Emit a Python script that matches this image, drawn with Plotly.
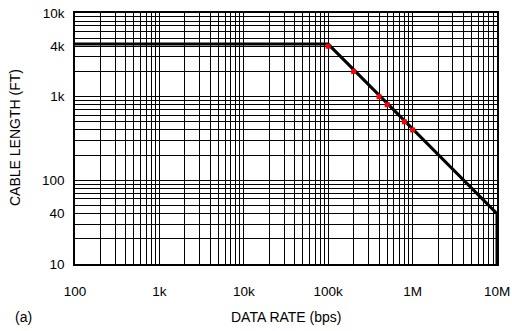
import plotly.graph_objects as go

# data
line_x = [100, 100e3, 10e6, 10e6]
line_y = [4250, 4250, 40, 10]
marker_x = [100e3, 200e3, 400e3, 500e3, 800e3, 1e6]
marker_y = [4000, 2000, 1000, 800, 500, 400]

x_label_vals = [100, 1e3, 1e4, 1e5, 1e6, 1e7]
x_label_text = ["100", "1k", "10k", "100k", "1M", "10M"]
y_label_vals = [10, 40, 100, 1000, 4000, 10000]
y_label_text = ["10", "40", "100", "1k", "4k", "10k"]


def grid_ticks(lo_exp, hi_exp, labels_v, labels_t):
    vals, texts = [], []
    for e in range(lo_exp, hi_exp + 1):
        for m in range(1, 10):
            v = m * 10 ** e
            if v > 10 ** hi_exp:
                break
            vals.append(v)
            t = ""
            for lv, lt in zip(labels_v, labels_t):
                if abs(lv - v) < 1e-6 * v:
                    t = lt
            texts.append(t)
    return vals, texts


xv, xt = grid_ticks(2, 7, x_label_vals, x_label_text)
yv, yt = grid_ticks(1, 4, y_label_vals, y_label_text)

fig = go.Figure()
fig.add_trace(go.Scatter(x=line_x, y=line_y, mode="lines",
                         line=dict(color="black", width=3), hoverinfo="skip"))
fig.add_trace(go.Scatter(x=marker_x, y=marker_y, mode="markers",
                         marker=dict(color="red", size=5, symbol="square"),
                         hoverinfo="skip"))

fam = "Liberation Sans, Arial, sans-serif"
tickfont = dict(family=fam, size=13.5, color="black")
titlefont = dict(family=fam, size=14, color="black")
fig.update_layout(
    width=512, height=331,
    margin=dict(l=75, r=15, t=13, b=67),
    paper_bgcolor="white", plot_bgcolor="white",
    showlegend=False,
    xaxis=dict(type="log", range=[2, 7], tickmode="array", tickvals=xv, ticktext=xt,
               showgrid=True, gridcolor="black", gridwidth=1,
               showline=True, linecolor="black", linewidth=1.5, mirror=True,
               ticks="", zeroline=False, automargin=False,
               tickfont=tickfont, ticklabelstandoff=14),
    yaxis=dict(type="log", range=[1, 4], tickmode="array", tickvals=yv, ticktext=yt,
               showgrid=True, gridcolor="black", gridwidth=1,
               showline=True, linecolor="black", linewidth=1.5, mirror=True,
               ticks="", zeroline=False, automargin=False,
               tickfont=tickfont, ticklabelstandoff=6),
    annotations=[
        dict(text="DATA RATE (bps)", x=286, y=331 - 317),
        dict(text="CABLE LENGTH (FT)", x=15, y=331 - 138, textangle=-90),
        dict(text="(a)", x=23, y=331 - 317),
    ],
)

# convert pixel-based annotation positions to paper coordinates
pw, ph = 512 - 75 - 15, 331 - 13 - 67
for a in fig.layout.annotations:
    a.x = (a.x - 75) / pw
    a.y = (a.y - 67) / ph
    a.xref = "paper"
    a.yref = "paper"
    a.xanchor = "center"
    a.yanchor = "middle"
    a.showarrow = False
    a.font = titlefont

fig.write_html("out.html")
